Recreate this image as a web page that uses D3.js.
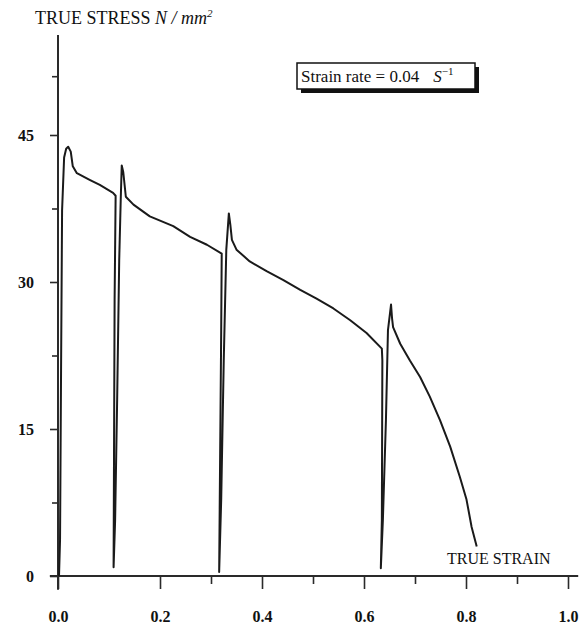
<!DOCTYPE html>
<html>
<head>
<meta charset="utf-8">
<script src="https://cdn.jsdelivr.net/npm/d3@7"></script>
<style>
  body { margin: 0; background: #fff; }
  svg { display: block; font-family: "Liberation Serif", "DejaVu Serif", serif; }
</style>
</head>
<body>
<svg id="chart" width="587" height="630"></svg>
<script>
// true strain / true stress trace
const strain = [0.002, 0.004, 0.006, 0.008, 0.012, 0.016, 0.020, 0.025, 0.029, 0.037, 0.063, 0.082, 0.095, 0.108, 0.113,
  0.111, 0.109,
  0.112, 0.116, 0.120, 0.123, 0.125, 0.128, 0.133, 0.148, 0.180, 0.226, 0.259, 0.292, 0.321,
  0.320, 0.316,
  0.320, 0.325, 0.330, 0.335, 0.338, 0.341, 0.350, 0.376, 0.409, 0.442, 0.475, 0.507, 0.540, 0.573, 0.605, 0.635,
  0.636, 0.635, 0.633,
  0.637, 0.643, 0.647, 0.653, 0.655, 0.657, 0.671, 0.690, 0.710, 0.729, 0.749, 0.769, 0.788, 0.801, 0.811, 0.821];
const stress = [0, 3.7, 21.0, 37.3, 42.7, 43.6, 43.8, 43.3, 41.8, 41.1, 40.4, 39.9, 39.5, 39.1, 38.8,
  28.2, 0.9,
  5.7, 18.0, 32.2, 38.4, 41.9, 41.2, 38.7, 37.9, 36.7, 35.7, 34.6, 33.8, 32.9,
  25.1, 0.4,
  7.8, 22.0, 33.3, 37.0, 35.8, 34.3, 33.3, 32.1, 31.1, 30.2, 29.2, 28.3, 27.3, 26.1, 24.8, 23.2,
  22.0, 5.7, 0.8,
  5.7, 15.9, 25.1, 27.7, 26.3, 25.4, 23.7, 22.0, 20.3, 18.3, 15.9, 13.2, 10.1, 7.8, 5.0, 3.0];

const xMajor = [0, 0.2, 0.4, 0.6, 0.8, 1.0];
const xMinor = [0.3, 0.5, 0.7, 0.9];
const yMajor = [0, 15, 30, 45];
const yMinor = [7.5, 22.5, 37.5, 51];

const svg = d3.select('#chart');

const x = d3.scaleLinear().domain([0, 1]).range([58, 568]);
const y = d3.scaleLinear().domain([0, 45]).range([576, 135]);

const ink = '#2a2a2a';

// x axis
const xAxis = svg.append('g').attr('transform', `translate(0,${y(0)})`);
xAxis.append('line')
  .attr('x1', x(-0.016)).attr('x2', x(1.02))
  .attr('stroke', ink).attr('stroke-width', 2);
xAxis.append('g')
  .call(d3.axisBottom(x).tickValues(xMajor).tickSize(13).tickFormat(d3.format('.1f')).tickPadding(22))
  .call(g => g.select('.domain').remove())
  .call(g => g.selectAll('line').attr('stroke', ink).attr('stroke-width', 1.6))
  .call(g => g.selectAll('text')
    .attr('fill', '#111')
    .style('font-family', '"Liberation Serif", serif')
    .style('font-size', '16px')
    .style('font-weight', 'bold'));
xAxis.append('g')
  .call(d3.axisBottom(x).tickValues(xMinor).tickSize(8).tickFormat(''))
  .call(g => g.select('.domain').remove())
  .call(g => g.selectAll('line').attr('stroke', ink).attr('stroke-width', 1.6));

// y axis
const yAxis = svg.append('g').attr('transform', `translate(${x(0)},0)`);
yAxis.append('line')
  .attr('y1', y(55.2)).attr('y2', y(-1.4))
  .attr('stroke', ink).attr('stroke-width', 2);
yAxis.append('g')
  .call(d3.axisLeft(y).tickValues(yMajor).tickSize(8).tickPadding(16))
  .call(g => g.select('.domain').remove())
  .call(g => g.selectAll('line').attr('stroke', ink).attr('stroke-width', 1.6))
  .call(g => g.selectAll('text')
    .attr('fill', '#111')
    .style('font-family', '"Liberation Serif", serif')
    .style('font-size', '16px')
    .style('font-weight', 'bold'));
yAxis.append('g')
  .call(d3.axisLeft(y).tickValues(yMinor).tickSize(6).tickFormat(''))
  .call(g => g.select('.domain').remove())
  .call(g => g.selectAll('line').attr('stroke', ink).attr('stroke-width', 1.6));

// stress-strain trace
const line = d3.line()
  .x((d, i) => x(strain[i]))
  .y(d => y(d));

svg.append('path')
  .datum(stress)
  .attr('fill', 'none')
  .attr('stroke', '#1a1a1a')
  .attr('stroke-width', 2)
  .attr('stroke-linejoin', 'round')
  .attr('d', line);

// axis titles
const title = svg.append('text')
  .attr('x', 35).attr('y', 24)
  .attr('fill', '#111')
  .style('font-size', '18px');
title.append('tspan').text('TRUE STRESS ');
title.append('tspan').style('font-style', 'italic').text('N / mm');
title.append('tspan').style('font-style', 'italic').style('font-size', '11px').attr('dy', -7).text('2');

svg.append('text')
  .attr('x', 447).attr('y', 564)
  .attr('fill', '#111')
  .style('font-size', '16px')
  .text('TRUE STRAIN');

// strain rate box
const box = svg.append('g').attr('transform', 'translate(297,63)');
box.append('rect')
  .attr('x', 4).attr('y', 4).attr('width', 178).attr('height', 26)
  .attr('fill', '#111');
box.append('rect')
  .attr('width', 178).attr('height', 26)
  .attr('fill', '#fff').attr('stroke', '#111').attr('stroke-width', 1.5);
const label = box.append('text')
  .attr('x', 4).attr('y', 19)
  .attr('fill', '#111')
  .style('font-size', '17px');
label.append('tspan').text('Strain rate = 0.04');
label.append('tspan').attr('dx', 14).style('font-style', 'italic').text('S');
label.append('tspan').attr('dy', -7).style('font-size', '11px').text('\u22121');
</script>
</body>
</html>
